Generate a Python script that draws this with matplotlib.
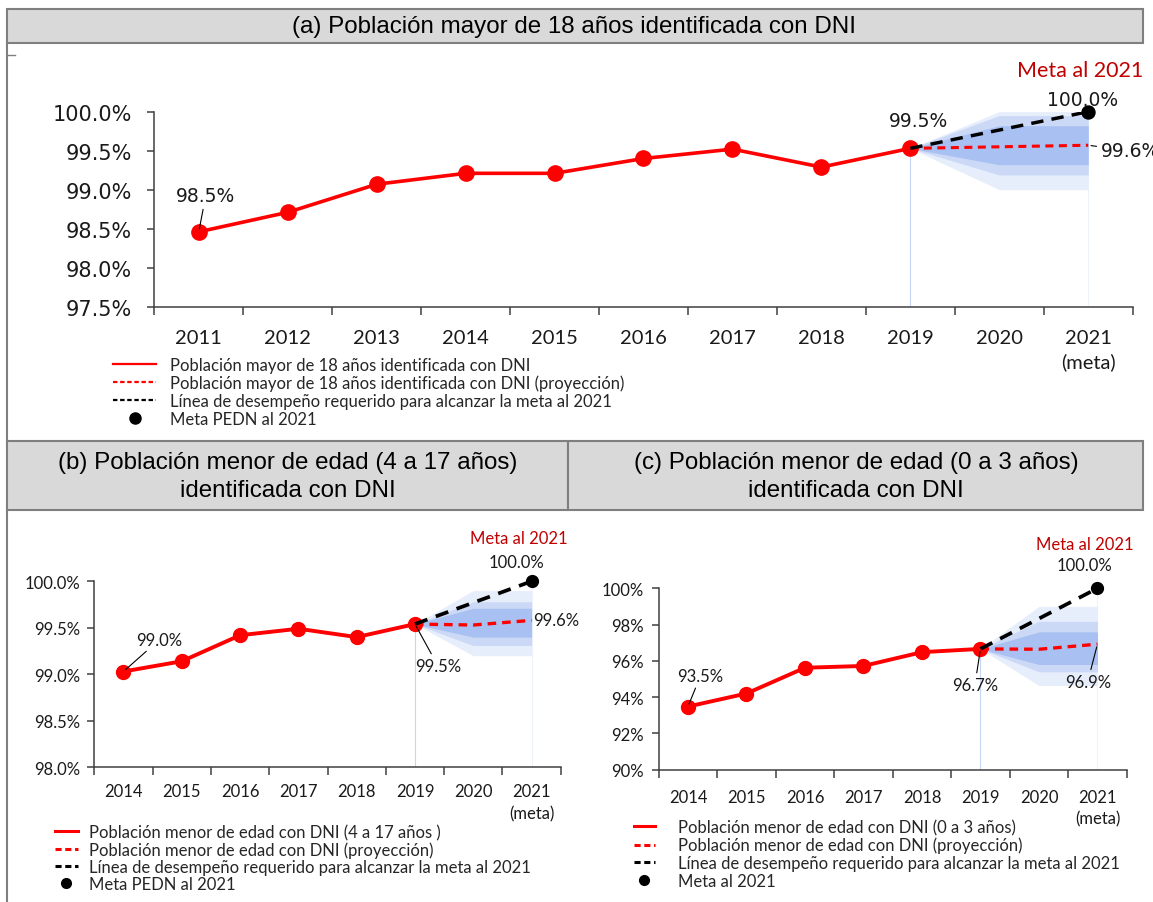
import matplotlib
matplotlib.use("Agg")
import numpy as np
import matplotlib.pyplot as plt
from matplotlib.lines import Line2D
from matplotlib.patches import Rectangle

plt.rcParams['font.family'] = ['Lato', 'DejaVu Sans']
NARROW = ['Liberation Sans Narrow', 'Liberation Sans', 'DejaVu Sans']
WIDE = ['DejaVu Sans']

# (a) poblacion mayor de 18 anios
anios_a = [2011, 2012, 2013, 2014, 2015, 2016, 2017, 2018, 2019]
dni_a = [98.46, 98.71, 99.07, 99.21, 99.21, 99.40, 99.52, 99.29, 99.53]
proy_a = [99.53, 99.55, 99.57]
fan_a_low = [[99.53, 99.00, 99.00], [99.53, 99.19, 99.19], [99.53, 99.32, 99.32]]
fan_a_high = [[99.53, 100.0, 100.0], [99.53, 99.95, 99.95], [99.53, 99.82, 99.82]]

# (b) poblacion menor de edad, 4 a 17 anios
anios_b = [2014, 2015, 2016, 2017, 2018, 2019]
dni_b = [99.03, 99.14, 99.42, 99.49, 99.40, 99.54]
proy_b = [99.54, 99.53, 99.58]
fan_b_low = [[99.54, 99.20, 99.20], [99.54, 99.31, 99.31], [99.54, 99.40, 99.40]]
fan_b_high = [[99.54, 99.90, 99.90], [99.54, 99.78, 99.78], [99.54, 99.71, 99.71]]

# (c) poblacion menor de edad, 0 a 3 anios
anios_c = [2014, 2015, 2016, 2017, 2018, 2019]
dni_c = [93.48, 94.20, 95.62, 95.72, 96.48, 96.66]
proy_c = [96.66, 96.64, 96.92]
fan_c_low = [[96.66, 94.64, 94.64], [96.66, 95.40, 95.40], [96.66, 95.80, 95.80]]
fan_c_high = [[96.66, 99.00, 99.00], [96.66, 98.18, 98.18], [96.66, 97.60, 97.60]]

anios_proy = [2019, 2020, 2021]
anios_meta = [2019, 2021]
meta = 100.0

fan_colors = ['#e6edfb', '#cbd9f7', '#a8c0f2']
ROJO = '#ff0000'
ROJO_META = '#c00000'


def panel(ax, anios, dni, proy, fan_low, fan_high, ylim, yticks, fmt, st, labels_dni,
          lab_proy, lab_meta, lab_hito):
    xs = anios + [2020, 2021]
    ax.set_xlim(xs[0] - 0.5, 2021.5)
    ax.set_ylim(*ylim)
    lw, ms = st['lw'], st['ms']

    for lo, hi, c in zip(fan_low, fan_high, fan_colors):
        ax.fill_between(anios_proy, lo, hi, color=c, lw=0, zorder=1)
    ax.vlines(2019, ylim[0], dni[-1], color='#c6d5f3', lw=0.8, zorder=1)
    ax.vlines(2021, ylim[0], ylim[1], color='#eef2fb', lw=0.8, zorder=0)

    ax.plot(anios, dni, color=ROJO, lw=lw, marker='o', ms=ms, zorder=3)
    ax.plot(anios_proy, proy, color=ROJO, lw=lw * 0.85, dashes=(2.6, 1.8), zorder=4)
    ax.plot(anios_meta, [dni[-1], meta], color='black', lw=lw * 0.95, dashes=(3.6, 2.4), zorder=4)
    ax.plot([2021], [meta], 'o', color='black', ms=ms * 0.85, zorder=5, clip_on=False)

    lab = dict(fontsize=st['fs_lab'], family=st['fam_lab'], color='#1a1a1a')
    arrow = dict(arrowstyle='-', color='black', lw=0.8, shrinkA=1, shrinkB=2)
    for idx, off, leader in labels_dni:
        ax.annotate(fmt.format(dni[idx]), (anios[idx], dni[idx]), xytext=off,
                    textcoords='offset points', ha='center', va='center',
                    arrowprops=arrow if leader else None, zorder=6, **lab)
    off, ha, leader = lab_proy
    ax.annotate(fmt.format(proy[-1]), (2021, proy[-1]), xytext=off, textcoords='offset points',
                ha=ha, va='center', arrowprops=arrow if leader else None,
                zorder=6, annotation_clip=False, **lab)
    ax.annotate(fmt.format(meta), (2021, meta), xytext=lab_meta, textcoords='offset points',
                ha='center', va='center', zorder=6, annotation_clip=False, **lab)
    ax.annotate('Meta al 2021', (2021, meta), xytext=lab_hito, textcoords='offset points',
                ha='center', va='center', fontsize=st['fs_meta'], color=ROJO_META,
                annotation_clip=False)

    ax.set_yticks(yticks)
    ax.set_yticklabels([st['yfmt'].format(v) for v in yticks], family=st['fam_y'],
                       fontsize=st['fs_y'], color='#1a1a1a')
    ax.set_xticks(xs)
    ax.set_xticklabels([str(a) for a in xs[:-1]] + ['2021\n(meta)'], fontsize=st['fs_x'],
                       color='#1a1a1a', linespacing=st['xls'])
    ax.set_xticks(np.arange(xs[0] - 0.5, 2022, 1), minor=True)
    ax.tick_params(axis='x', which='major', length=0, pad=st['xpad'])
    ax.tick_params(axis='x', which='minor', length=6, width=1.1, color='#404040', direction='out')
    ax.tick_params(axis='y', length=5, width=1.1, color='#404040', pad=st['ypad'])
    for s in ['top', 'right']:
        ax.spines[s].set_visible(False)
    for s in ['left', 'bottom']:
        ax.spines[s].set_color('#404040')
        ax.spines[s].set_linewidth(1.1)


def leyenda(fig, textos, anchor, fs, hl, pad, lw, ms, sp):
    handles = [Line2D([], [], color=ROJO, lw=lw),
               Line2D([], [], color=ROJO, lw=lw, dashes=(2.0, 1.2)),
               Line2D([], [], color='black', lw=lw, dashes=(2.0, 1.2)),
               Line2D([], [], color='black', ls='none', marker='o', ms=ms)]
    fig.legend(handles, textos, loc='upper left', bbox_to_anchor=anchor, frameon=False,
               fontsize=fs, handlelength=hl, handletextpad=pad, labelspacing=sp,
               borderpad=0, borderaxespad=0, labelcolor='#262626')


W, H = 1153, 903
fig = plt.figure(figsize=(W / 100, H / 100), dpi=100)


def fx(px):
    return px / W


def fy(py):
    return 1 - py / H


# marcos y cabeceras
gris = '#7f7f7f'
for x0, y0, x1, y1 in [(7, 10, 1143, 44), (7, 442, 568, 511), (568, 442, 1143, 511)]:
    fig.add_artist(Rectangle((fx(x0), fy(y1)), fx(x1 - x0), (y1 - y0) / H,
                             facecolor='#d9d9d9', edgecolor=gris, lw=1.5))
fig.add_artist(Line2D([fx(7), fx(7)], [fy(44), fy(442)], color=gris, lw=1.5))
fig.add_artist(Line2D([fx(7), fx(7)], [fy(511), 0], color=gris, lw=1.5))
fig.add_artist(Line2D([fx(7), fx(15)], [fy(56), fy(56)], color=gris, lw=1.0))

fig.text(fx(574), fy(27), '(a) Población mayor de 18 años identificada con DNI',
         ha='center', va='center', fontsize=17.4, family=NARROW)
fig.text(fx(288), fy(477), '(b) Población menor de edad (4 a 17 años)\nidentificada con DNI',
         ha='center', va='center', fontsize=17.4, family=NARROW, linespacing=1.3)
fig.text(fx(856), fy(477), '(c) Población menor de edad (0 a 3 años)\nidentificada con DNI',
         ha='center', va='center', fontsize=17.4, family=NARROW, linespacing=1.3)

ax_a = fig.add_axes([fx(154.3), fy(307.7), fx(1132.7 - 154.3), (307.7 - 112.7) / H])
ax_b = fig.add_axes([fx(94.3), fy(768.3), fx(560.7 - 94.3), (768.3 - 582.3) / H])
ax_c = fig.add_axes([fx(658.7), fy(770.7), fx(1126.7 - 658.7), (770.7 - 589.3) / H])

estilo_a = dict(lw=2.6, ms=11, fs_lab=13.5, fam_lab=WIDE, fs_meta=15.5, fs_y=15,
                fam_y=WIDE, yfmt='{:.1f}%', fs_x=14.5, xpad=16, ypad=11, xls=1.45)
estilo_b = dict(lw=2.8, ms=10, fs_lab=12, fam_lab=None, fs_meta=12, fs_y=12,
                fam_y=None, yfmt='{:.1f}%', fs_x=12, xpad=11, ypad=5, xls=1.55)
estilo_c = dict(lw=2.8, ms=10, fs_lab=12, fam_lab=None, fs_meta=12, fs_y=12,
                fam_y=None, yfmt='{:.0f}%', fs_x=12, xpad=14, ypad=6, xls=1.4)

panel(ax_a, anios_a, dni_a, proy_a, fan_a_low, fan_a_high, (97.5, 100.0),
      [97.5, 98.0, 98.5, 99.0, 99.5, 100.0], '{:.1f}%', estilo_a,
      [(0, (5, 26), True), (8, (6, 20), False)],
      ((9, -4), 'left', True), (-4, 9), (-6, 30))
panel(ax_b, anios_b, dni_b, proy_b, fan_b_low, fan_b_high, (98.0, 100.0),
      [98.0, 98.5, 99.0, 99.5, 100.0], '{:.1f}%', estilo_b,
      [(0, (26, 23), True), (5, (16.5, -30), True)],
      ((1, 0), 'left', False), (-11, 14), (-9, 31))
panel(ax_c, anios_c, dni_c, proy_c, fan_c_low, fan_c_high, (90, 100),
      [90, 92, 94, 96, 98, 100], '{:.1f}%', estilo_c,
      [(0, (9, 22), True), (5, (-4, -26), True)],
      ((-7, -27), 'center', True), (-9, 17), (-9, 32))

leyenda(fig, ['Población mayor de 18 años identificada con DNI',
              'Población mayor de 18 años identificada con DNI (proyección)',
              'Línea de desempeño requerido para alcanzar la meta al 2021',
              'Meta PEDN al 2021'],
        (fx(113), fy(358)), 12, 2.6, 0.8, 1.6, 8, 0.1)
leyenda(fig, ['Población menor de edad con DNI (4 a 17 años )',
              'Población menor de edad con DNI (proyección)',
              'Línea de desempeño requerido para alcanzar la meta al 2021',
              'Meta PEDN al 2021'],
        (fx(55), fy(825)), 12, 1.35, 0.7, 2.2, 7, 0.06)
leyenda(fig, ['Población menor de edad con DNI (0 a 3 años)',
              'Población menor de edad con DNI (proyección)',
              'Línea de desempeño requerido para alcanzar la meta al 2021',
              'Meta al 2021'],
        (fx(634), fy(820)), 12, 1.25, 1.4, 2.2, 7, 0.1)

fig.savefig('out.png', dpi=100)
